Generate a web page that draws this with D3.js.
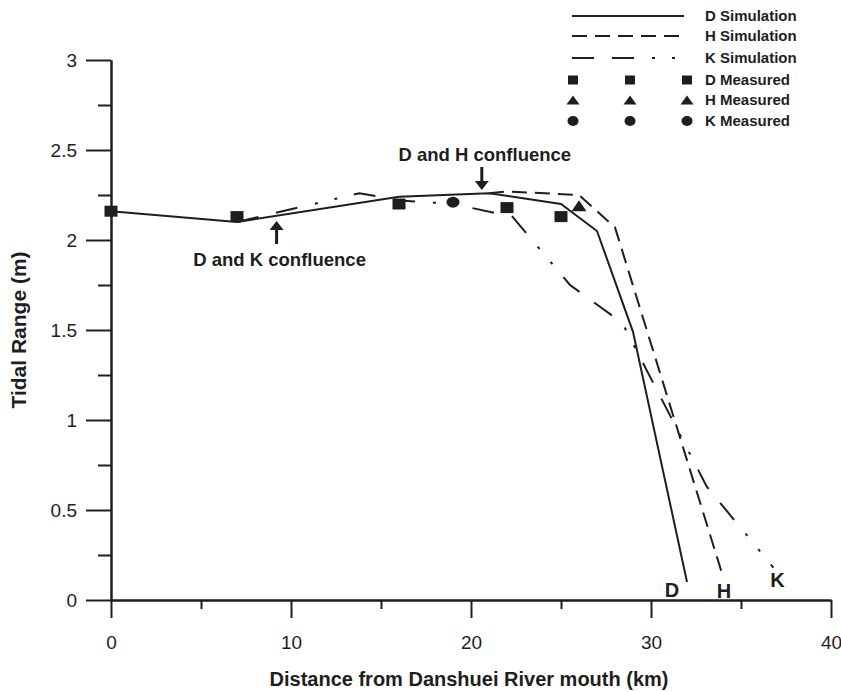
<!DOCTYPE html>
<html>
<head>
<meta charset="utf-8">
<script src="https://cdn.jsdelivr.net/npm/d3@7"></script>
<style>
  body { margin: 0; background: #fff; }
  text { font-family: "Liberation Sans", Arial, sans-serif; fill: #1e1e1e; }
</style>
</head>
<body>
<div id="chart"></div>
<script>
  // simulated tidal range along each branch (km, m)
  var dSim = [[0, 2.16], [7, 2.10], [16, 2.24], [21, 2.26], [25, 2.20], [27, 2.05], [29, 1.49], [32, 0.10]];
  var hSim = [[21, 2.26], [22, 2.27], [26, 2.25], [28, 2.07], [34, 0.13]];
  var kSim = [[7, 2.10], [13.8, 2.26], [16, 2.22], [19, 2.20], [22.3, 2.13], [25.5, 1.75], [28.4, 1.54], [33.1, 0.63], [36.8, 0.18]];

  // measured tidal range at the gauges
  var dMeas = [[0, 2.16], [7, 2.13], [16, 2.20], [22, 2.18], [25, 2.13]];
  var hMeas = [[26, 2.19]];
  var kMeas = [[19, 2.21]];

  var xTicks = [0, 10, 20, 30, 40];
  var xMinor = [5, 15, 25, 35];
  var yTicks = [0, 0.5, 1, 1.5, 2, 2.5, 3];
  var yMinor = [0.25, 0.75, 1.25, 1.75, 2.25, 2.75];

  var confluences = [["D and K confluence", 9.2], ["D and H confluence", 20.6]];
  var legendNames = ["D Simulation", "H Simulation", "K Simulation", "D Measured", "H Measured", "K Measured"];

  var width = 841, height = 692;
  var ink = "#1e1e1e";

  var svg = d3.select("#chart").append("svg")
    .attr("width", width)
    .attr("height", height);

  var x = d3.scaleLinear().domain([0, 40]).range([111, 831]);
  var y = d3.scaleLinear().domain([0, 3]).range([600, 60]);

  /* axes: long labelled ticks plus short unlabelled ones */
  function styleAxis(g) {
    g.select(".domain").attr("stroke", ink).attr("stroke-width", 2);
    g.selectAll(".tick line").attr("stroke", ink).attr("stroke-width", 2);
    g.selectAll(".tick text").style("font-size", "19px").attr("fill", ink);
  }

  svg.append("g")
    .attr("transform", "translate(0,600)")
    .call(d3.axisBottom(x).tickValues(xMinor).tickSize(9).tickSizeOuter(0).tickFormat(""))
    .call(styleAxis);
  svg.append("g")
    .attr("transform", "translate(0,600)")
    .call(d3.axisBottom(x).tickValues(xTicks).tickSize(18).tickSizeOuter(0).tickPadding(18).tickFormat(d3.format("")))
    .call(styleAxis);

  svg.append("g")
    .attr("transform", "translate(111,0)")
    .call(d3.axisLeft(y).tickValues(yMinor).tickSize(13).tickSizeOuter(0).tickFormat(""))
    .call(styleAxis);
  svg.append("g")
    .attr("transform", "translate(111,0)")
    .call(d3.axisLeft(y).tickValues(yTicks).tickSize(25).tickSizeOuter(0).tickPadding(9).tickFormat(d3.format("")))
    .call(styleAxis);

  svg.selectAll(".tick text").attr("font-family", "Liberation Sans, Arial, sans-serif");

  svg.append("text")
    .attr("x", 469).attr("y", 686)
    .attr("text-anchor", "middle")
    .style("font-size", "20px").style("font-weight", "bold")
    .text("Distance from Danshuei River mouth (km)");

  svg.append("text")
    .attr("transform", "translate(26,330) rotate(-90)")
    .attr("text-anchor", "middle")
    .style("font-size", "21px").style("font-weight", "bold")
    .text("Tidal Range (m)");

  /* simulation lines */
  var line = d3.line().x(function (d) { return x(d[0]); }).y(function (d) { return y(d[1]); });
  var lineStyles = [
    { data: dSim, dash: null },
    { data: hSim, dash: "15,8" },
    { data: kSim, dash: "22,18,22,18,3,17,3,17" }
  ];

  svg.selectAll(".sim")
    .data(lineStyles)
    .enter().append("path")
    .attr("class", "sim")
    .attr("d", function (d) { return line(d.data); })
    .attr("fill", "none")
    .attr("stroke", ink)
    .attr("stroke-width", 2)
    .attr("stroke-dasharray", function (d) { return d.dash; });

  /* measured points */
  function square(g, w, h) {
    g.append("rect").attr("x", -w / 2).attr("y", -h / 2).attr("width", w).attr("height", h).attr("fill", ink);
  }
  function triangle(g, w, h) {
    g.append("path").attr("d", "M0," + (-h / 2) + "L" + (w / 2) + "," + (h / 2) + "L" + (-w / 2) + "," + (h / 2) + "Z").attr("fill", ink);
  }
  function dot(g, rx, ry) {
    g.append("ellipse").attr("rx", rx).attr("ry", ry).attr("fill", ink);
  }

  dMeas.forEach(function (d) {
    square(svg.append("g").attr("transform", "translate(" + x(d[0]) + "," + y(d[1]) + ")"), 13, 11);
  });
  hMeas.forEach(function (d) {
    triangle(svg.append("g").attr("transform", "translate(" + x(d[0]) + "," + y(d[1]) + ")"), 15, 11);
  });
  kMeas.forEach(function (d) {
    dot(svg.append("g").attr("transform", "translate(" + x(d[0]) + "," + y(d[1]) + ")"), 6.5, 5.5);
  });

  /* branch end labels */
  [["D", dSim], ["H", hSim], ["K", kSim]].forEach(function (b, i) {
    var last = b[1][b[1].length - 1];
    var off = [[-15, 15], [1, 21], [4, 19]][i];
    svg.append("text")
      .attr("x", x(last[0]) + off[0]).attr("y", y(last[1]) + off[1])
      .attr("text-anchor", "middle")
      .style("font-size", "20px").style("font-weight", "bold")
      .text(b[0]);
  });

  /* confluence arrows */
  function arrow(px, yFrom, yTo) {
    var dir = yTo > yFrom ? 1 : -1;
    svg.append("line")
      .attr("x1", px).attr("x2", px)
      .attr("y1", yFrom).attr("y2", yTo - dir * 7)
      .attr("stroke", ink).attr("stroke-width", 3);
    svg.append("path")
      .attr("d", "M" + (px - 7) + "," + (yTo - dir * 9) + "L" + (px + 7) + "," + (yTo - dir * 9) + "L" + px + "," + yTo + "Z")
      .attr("fill", ink);
  }

  var kConf = confluences[0], hConf = confluences[1];
  arrow(x(kConf[1]), 244, 221);
  svg.append("text")
    .attr("x", x(kConf[1]) + 3).attr("y", 266)
    .attr("text-anchor", "middle")
    .style("font-size", "18.5px").style("font-weight", "bold")
    .text(kConf[0]);

  arrow(x(hConf[1]), 167, 190);
  svg.append("text")
    .attr("x", x(hConf[1]) + 3).attr("y", 161)
    .attr("text-anchor", "middle")
    .style("font-size", "18.5px").style("font-weight", "bold")
    .text(hConf[0]);

  /* legend */
  var legend = svg.append("g").attr("transform", "translate(572,16)");
  var rowY = [0, 20, 42, 64, 84, 105];

  legendNames.forEach(function (name, i) {
    var row = legend.append("g").attr("transform", "translate(0," + rowY[i] + ")");
    if (i < 3) {
      row.append("line")
        .attr("x1", 0).attr("x2", 112)
        .attr("stroke", ink).attr("stroke-width", 2)
        .attr("stroke-dasharray", lineStyles[i].dash);
    } else {
      [1, 58, 115].forEach(function (mx) {
        var m = row.append("g").attr("transform", "translate(" + mx + ",0)");
        if (i === 3) square(m, 10, 9);
        else if (i === 4) triangle(m, 13, 9);
        else dot(m, 5.5, 5);
      });
    }
    row.append("text")
      .attr("x", 133).attr("dy", "0.35em")
      .style("font-size", "15px").style("font-weight", "bold")
      .text(name);
  });
</script>
</body>
</html>
